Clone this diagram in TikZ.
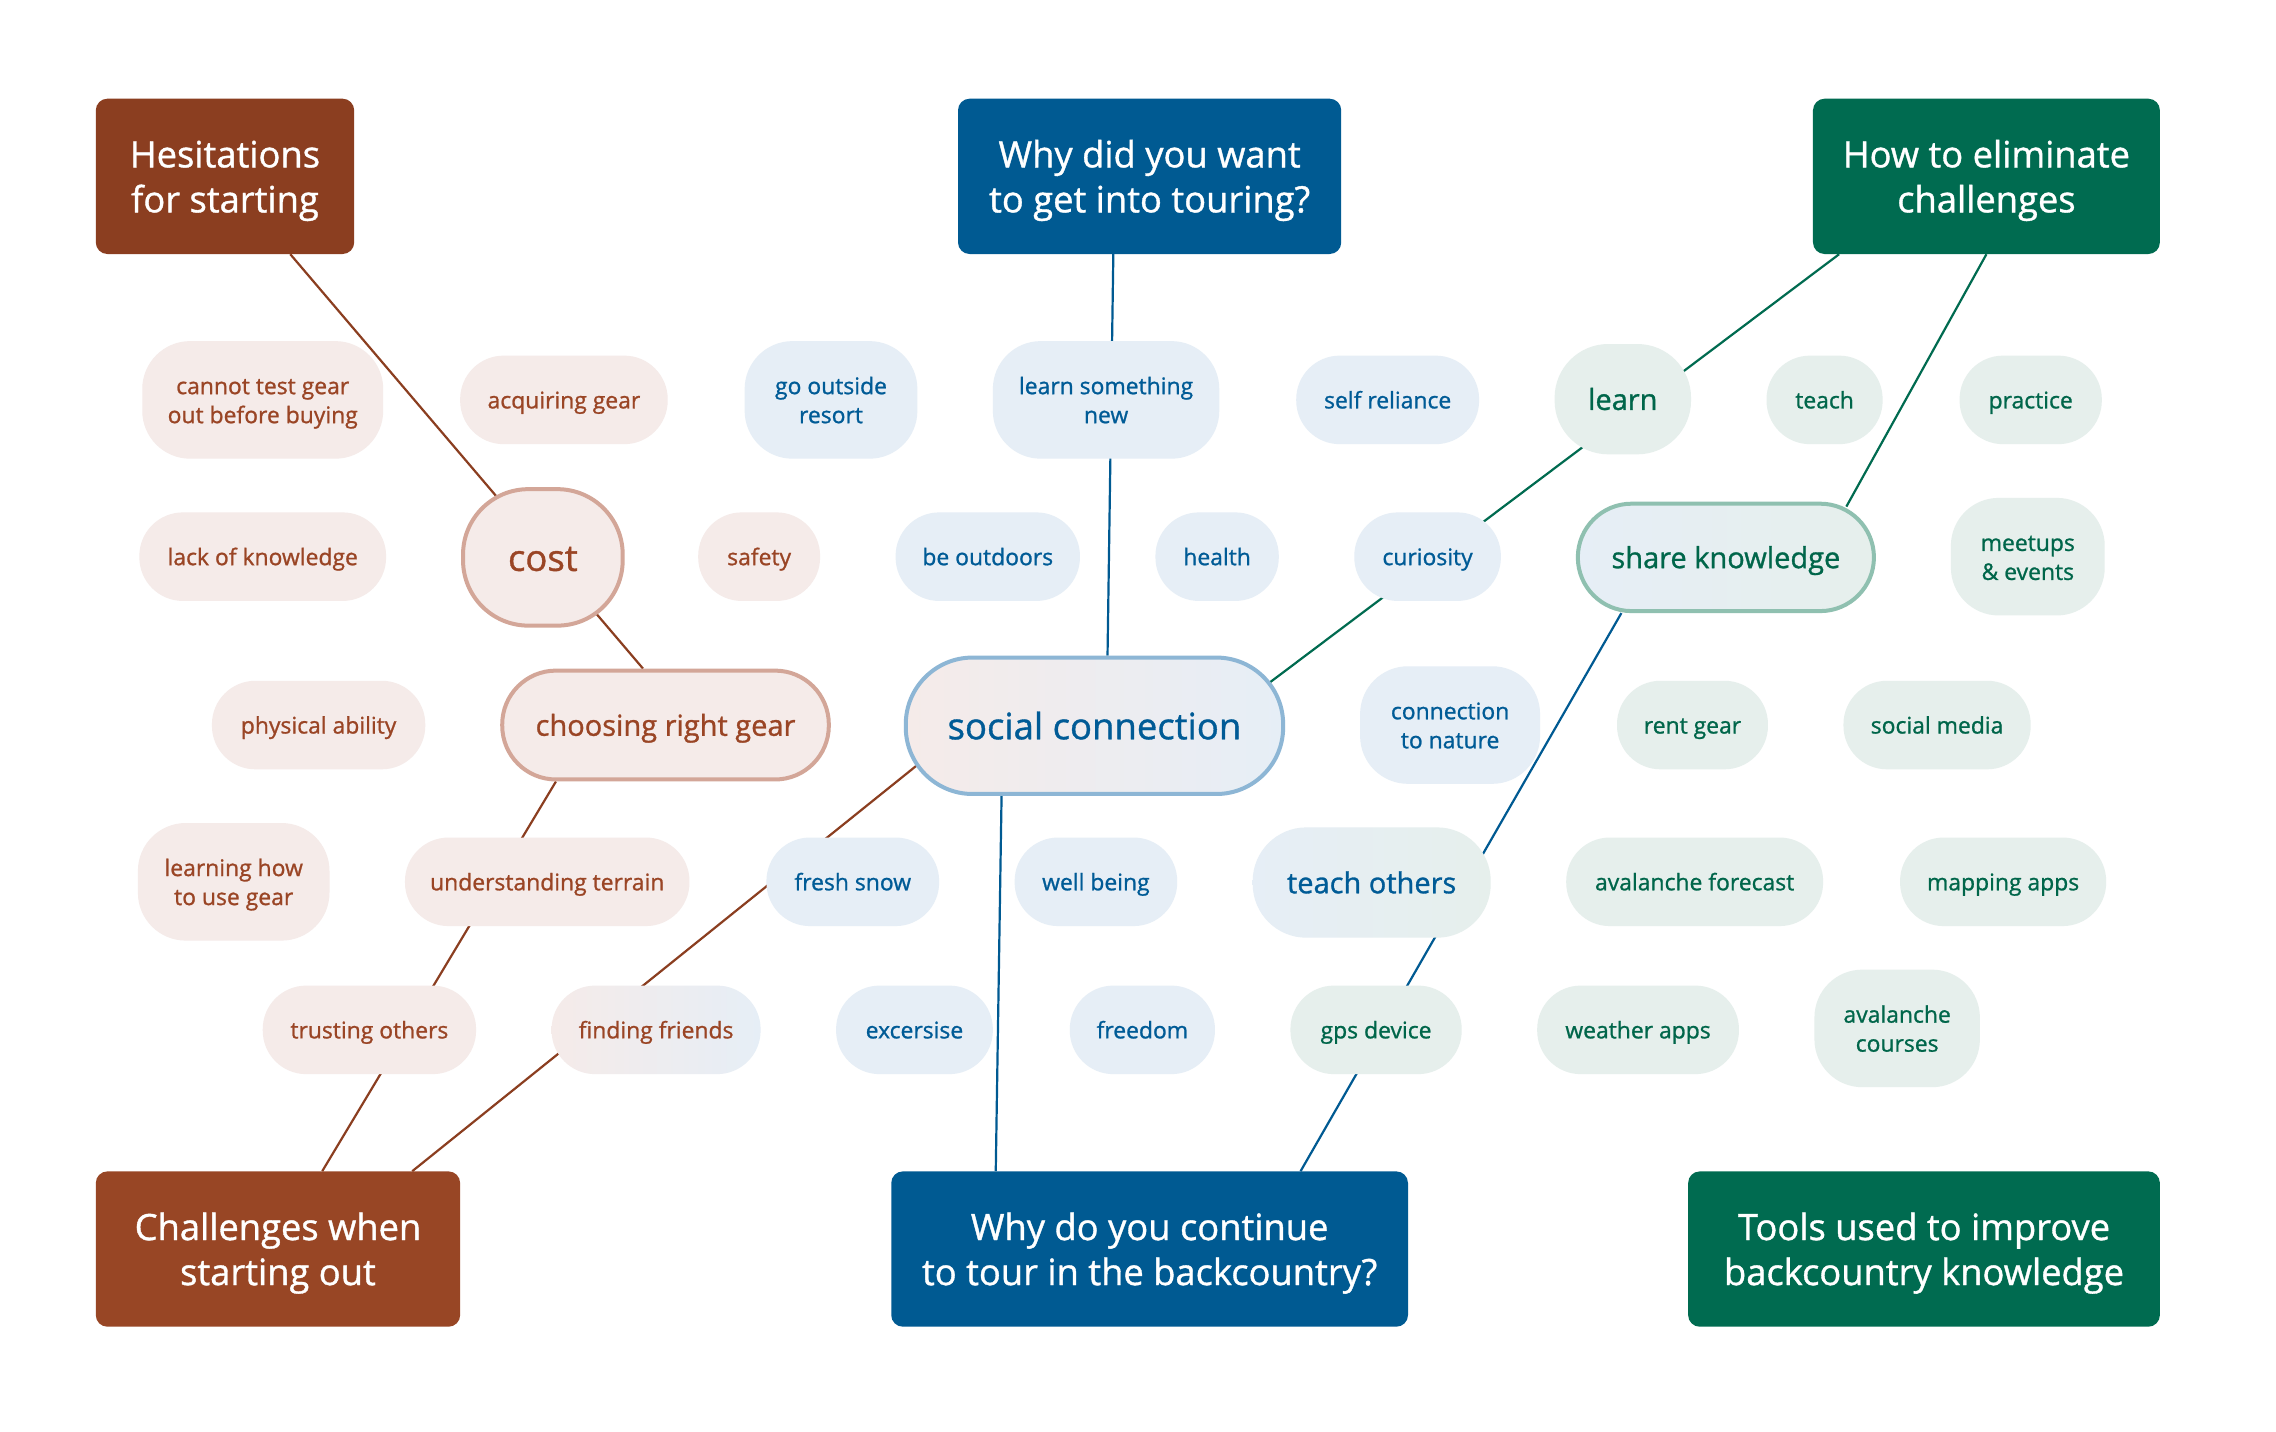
\documentclass[tikz,border=0pt]{standalone}
\usepackage{fontspec}
\setmainfont{Open Sans}[FakeBold=1.0]
\usetikzlibrary{calc}
\pgfdeclarelayer{bg}
\pgfsetlayers{bg,main}
\definecolor{brD}{HTML}{8B3E20}
\definecolor{brH}{HTML}{984625}
\definecolor{brT}{HTML}{9A4525}
\definecolor{brF}{HTML}{F5EBE9}
\definecolor{brS}{HTML}{D3A698}
\definecolor{blH}{HTML}{005A92}
\definecolor{blT}{HTML}{005B96}
\definecolor{blF}{HTML}{E6EEF6}
\definecolor{blS}{HTML}{8DB6D5}
\definecolor{grH}{HTML}{006B50}
\definecolor{grT}{HTML}{00664A}
\definecolor{grF}{HTML}{E6EFEC}
\definecolor{grS}{HTML}{8FC0B0}
\def\sc{1.4515}
\newcommand\myHead{\fontsize{36.3}{45}\selectfont}
\newcommand\mySm{\fontsize{22.9}{29}\selectfont}
\newcommand\myMd{\fontsize{29}{36}\selectfont}
\newcommand\myLg{\fontsize{36.5}{44}\selectfont}
\begin{document}
\begin{tikzpicture}[x=1.4515pt,y=-1.4515pt,
  sz/.style 2 args={minimum width=#1*\sc pt, minimum height=#2*\sc pt},
  rc/.style={rounded corners=#1*\sc pt},
  base/.style={inner sep=0pt, align=center, text depth=0pt},
  hdr/.style={base, text=white, font=\myHead, rc=8, text height=72pt},
  sm/.style={base, font=\mySm, rc=30, text height=17pt},
  smtwo/.style={base, font=\mySm, rc=33, text height=46.5pt},
  md/.style={base, font=\myMd, text height=21.5pt},
  lg/.style={base, font=\myLg, text height=27pt},
  bs/.style={fill=brF, text=brT},
  bls/.style={fill=blF, text=blT},
  gs/.style={fill=grF, text=grT},
  brl/.style={draw=brD, line width=2.2pt},
  bll/.style={draw=blH, line width=2.2pt},
  grl/.style={draw=grH, line width=2.2pt}]
\useasboundingbox (0,0) rectangle (1568,986);
\begin{pgfonlayer}{bg}
\fill[white] (0,0) rectangle (1568,986);
\end{pgfonlayer}
% headers
\node[hdr, fill=brD, sz={178}{107}] (hes) at (155,121.5) {Hesitations\\for starting};
\node[hdr, fill=blH, sz={264}{107}] (why) at (792,121.5) {Why did you want\\to get into touring?};
\node[hdr, fill=grH, sz={239}{107}] (how) at (1368.5,121.5) {How to eliminate\\challenges};
\node[hdr, fill=brH, sz={251}{107}] (chal) at (191.5,860.5) {Challenges when\\starting out};
\node[hdr, fill=blH, sz={356}{107}] (cont) at (792,860.5) {Why do you continue\\to tour in the backcountry?};
\node[hdr, fill=grH, sz={325}{107}] (tools) at (1325.5,860.5) {Tools used to improve\\backcountry knowledge};
% brown
\node[smtwo, bs, sz={166}{81}] (cannot) at (181,275.5) {cannot test gear\\out before buying};
\node[sm, bs, sz={143}{61}] (acq) at (388.5,275.5) {acquiring gear};
\node[sm, bs, sz={170}{61}] (lack) at (181,383.5) {lack of knowledge};
\node[lg, bs, draw=brS, line width=4pt, rc=45, sz={110}{94}] (cost) at (374,384) {cost};
\node[sm, bs, sz={84}{61}] (safety) at (523,383.5) {safety};
\node[sm, bs, sz={147}{61}] (phys) at (219.5,499.5) {physical ability};
\node[md, bs, draw=brS, line width=4pt, rc=37, sz={225}{75}] (crg) at (458.5,499.5) {choosing right gear};
\node[smtwo, bs, sz={132}{81}] (learnhow) at (161,607.5) {learning how\\to use gear};
\node[sm, bs, sz={196}{61}] (terrain) at (377,607.5) {understanding terrain};
\node[sm, bs, sz={147}{61}] (trust) at (254.5,709.5) {trusting others};
\node[sm, text=brT, left color=brF, right color=blF, sz={144}{61}] (friends) at (452,709.5) {finding friends};
% blue
\node[smtwo, bls, sz={119}{81}] (goout) at (572.5,275.5) {go outside\\resort};
\node[smtwo, bls, sz={156}{81}] (lsn) at (762,275.5) {learn something\\new};
\node[sm, bls, sz={126}{61}] (selfr) at (956,275.5) {self reliance};
\node[sm, bls, sz={127}{61}] (outdoors) at (680.5,383.5) {be outdoors};
\node[sm, bls, sz={85}{61}] (health) at (838.5,383.5) {health};
\node[sm, bls, sz={101}{61}] (curio) at (983.5,383.5) {curiosity};
\node[lg, text=blT, draw=blS, line width=4pt, left color=brF, right color=blF, rc=46, sz={260}{94}] (soc) at (754,500) {social connection};
\node[smtwo, bls, sz={124}{81}] (nature) at (999,499.5) {connection\\to nature};
\node[sm, bls, sz={119}{61}] (snow) at (587.5,607.5) {fresh snow};
\node[sm, bls, sz={112}{61}] (well) at (755,607.5) {well being};
\node[md, text=blT, left color=blF, right color=grF, rc=37, sz={164}{76}] (teachoth) at (945,608) {teach others};
\node[sm, bls, sz={108}{61}] (exc) at (630,709.5) {excersise};
\node[sm, bls, sz={100}{61}] (freedom) at (787,709.5) {freedom};
% green
\node[sm, gs, sz={118}{61}] (gps) at (948,709.5) {gps device};
\node[md, gs, rc=37, sz={94}{76}] (learn) at (1118,275) {learn};
\node[sm, gs, sz={80}{61}] (teach) at (1257,275.5) {teach};
\node[sm, gs, sz={98}{61}] (practice) at (1399,275.5) {practice};
\node[md, text=grT, draw=grS, line width=4pt, left color=blF, right color=grF, rc=37, sz={204}{74}] (sk) at (1189,384) {share knowledge};
\node[smtwo, gs, sz={106}{81}] (meetups) at (1397,383.5) {meetups\\\& events};
\node[sm, gs, sz={104}{61}] (rent) at (1166,499.5) {rent gear};
\node[sm, gs, sz={129}{61}] (socmedia) at (1334.5,499.5) {social media};
\node[sm, gs, sz={177}{61}] (avfore) at (1167.5,607.5) {avalanche forecast};
\node[sm, gs, sz={142}{61}] (mapping) at (1380,607.5) {mapping apps};
\node[sm, gs, sz={139}{61}] (weather) at (1128.5,709.5) {weather apps};
\node[smtwo, gs, sz={114}{81}] (avcourses) at (1307,708.5) {avalanche\\courses};
% connectors
\begin{pgfonlayer}{bg}
\draw[brl] ($(hes.south)+(45,0)$) -- ($(crg.north)+(-15.5,0)$);
\draw[brl] ($(crg.south)+(-75.5,0)$) -- ($(chal.north)+(30.5,0)$);
\draw[brl] ($(soc.center)+(-122,27)$) -- ($(chal.north)+(92.5,0)$);
\draw[bll] ($(why.south)+(-25,0)$) -- ($(soc.north)+(9,0)$);
\draw[bll] ($(soc.south)+(-64,0)$) -- ($(cont.north)+(-106,0)$);
\draw[bll] ($(sk.south)+(-72,0)$) -- ($(cont.north)+(104,0)$);
\draw[grl] ($(how.south)+(-101.5,0)$) -- ($(soc.center)+(121,-30)$);
\draw[grl] (how.south) -- ($(sk.center)+(83,-35)$);
\end{pgfonlayer}
\end{tikzpicture}
\end{document}
